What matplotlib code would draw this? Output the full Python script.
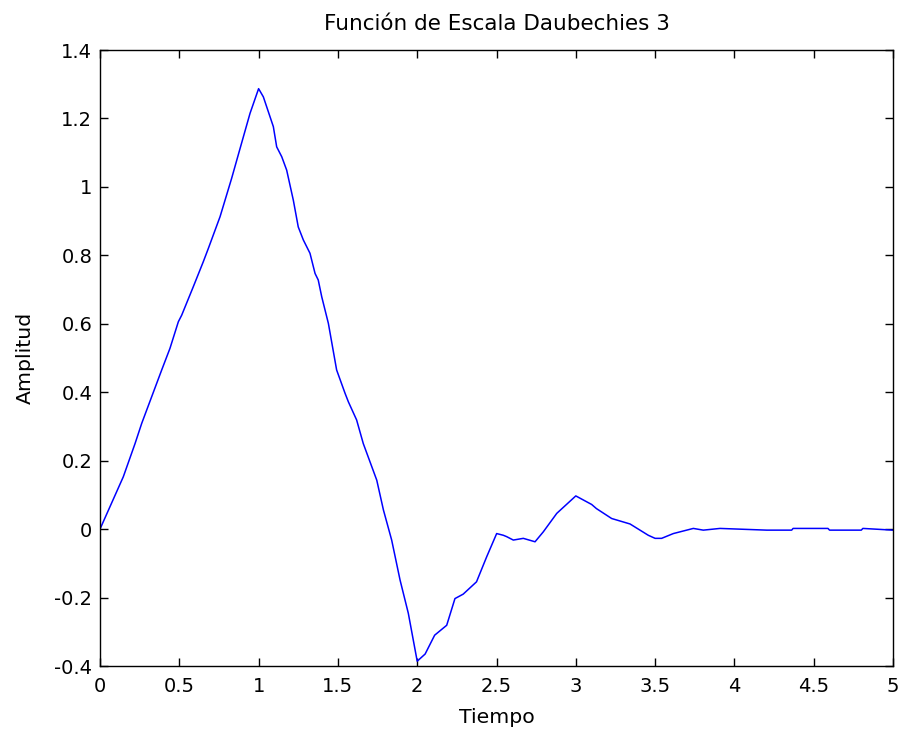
import matplotlib
matplotlib.use("Agg")
import matplotlib.pyplot as plt

# Daubechies 3 scaling function, sampled along the curve
t = [0.0, 0.147, 0.221, 0.263, 0.389, 0.441, 0.494, 0.515, 0.588, 0.651,
     0.683, 0.757, 0.83, 0.883, 0.946, 1.0, 1.03, 1.093, 1.114, 1.146,
     1.177, 1.219, 1.25, 1.282, 1.324, 1.356, 1.376, 1.398, 1.44, 1.492,
     1.545, 1.566, 1.618, 1.66, 1.745, 1.787, 1.839, 1.892, 1.944, 2.0,
     2.05, 2.11, 2.186, 2.238, 2.29, 2.374, 2.438, 2.501, 2.543, 2.564,
     2.606, 2.669, 2.743, 2.795, 2.88, 3.0, 3.1, 3.13, 3.226, 3.342,
     3.457, 3.5, 3.541, 3.615, 3.741, 3.804, 3.909, 4.204, 4.361, 4.37,
     4.59, 4.6, 4.8, 4.81, 5.0]
phi = [0.0, 0.153, 0.25, 0.309, 0.465, 0.528, 0.606, 0.625, 0.708, 0.781,
       0.82, 0.913, 1.025, 1.112, 1.215, 1.287, 1.263, 1.176, 1.117, 1.088,
       1.049, 0.961, 0.883, 0.845, 0.806, 0.747, 0.728, 0.679, 0.601, 0.465,
       0.397, 0.372, 0.319, 0.25, 0.143, 0.056, -0.032, -0.149, -0.246, -0.386,
       -0.365, -0.31, -0.281, -0.203, -0.19, -0.154, -0.081, -0.013, -0.018, -0.022,
       -0.032, -0.027, -0.037, -0.008, 0.046, 0.097, 0.072, 0.06, 0.031, 0.015,
       -0.018, -0.027, -0.027, -0.013, 0.002, -0.003, 0.002, -0.003, -0.003, 0.002,
       0.002, -0.003, -0.003, 0.002, -0.003]

xticks = [0, 0.5, 1, 1.5, 2, 2.5, 3, 3.5, 4, 4.5, 5]
xticklabels = ["0", "0.5", "1", "1.5", "2", "2.5", "3", "3.5", "4", "4.5", "5"]
yticks = [-0.4, -0.2, 0, 0.2, 0.4, 0.6, 0.8, 1, 1.2, 1.4]
yticklabels = ["-0.4", "-0.2", "0", "0.2", "0.4", "0.6", "0.8", "1", "1.2", "1.4"]

plt.rcParams["font.family"] = ["DejaVu Sans"]

fig = plt.figure(figsize=(9.03, 7.32), dpi=100)
ax = fig.add_axes([100 / 903, 1 - 666 / 732, 793 / 903, 616 / 732])

ax.plot(t, phi, color="#0000ff", linewidth=1.1)

ax.set_xlim(0, 5)
ax.set_ylim(-0.4, 1.4)
ax.set_xticks(xticks)
ax.set_xticklabels(xticklabels)
ax.set_yticks(yticks)
ax.set_yticklabels(yticklabels)
ax.tick_params(direction="in", length=6, width=1, top=True, right=True,
               labelsize=14, colors="black")
ax.tick_params(axis="x", pad=8)
ax.tick_params(axis="y", pad=5.5)
for s in ax.spines.values():
    s.set_linewidth(1.0)

ax.set_title("Función de Escala Daubechies 3", fontsize=15.5, pad=14.4)
ax.set_xlabel("Tiempo", fontsize=14.7, labelpad=8.5)
ax.set_ylabel("Amplitud", fontsize=14.7, labelpad=14)

fig.savefig("out.png", dpi=100)
